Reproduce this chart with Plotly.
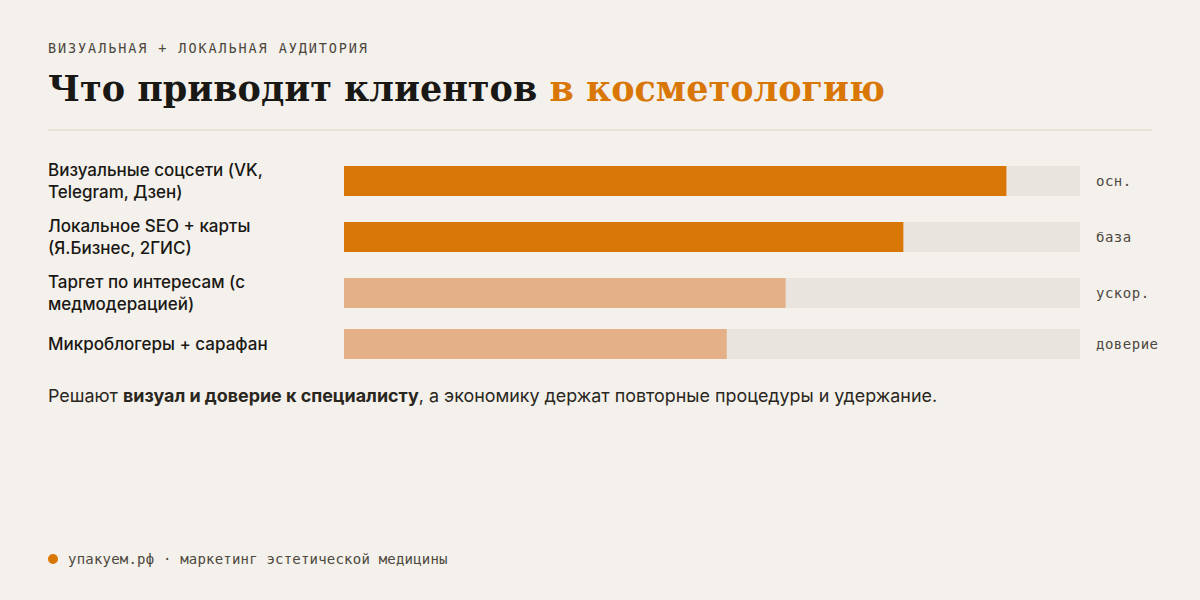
import plotly.graph_objects as go
import json

# ---------------- data ----------------
categories = [
    "Визуальные соцсети (VK,<br>Telegram, Дзен)",
    "Локальное SEO + карты<br>(Я.Бизнес, 2ГИС)",
    "Таргет по интересам (с<br>медмодерацией)",
    "Микроблогеры + сарафан",
]
values = [90, 76, 60, 52]
tags = ["осн.", "база", "ускор.", "доверие"]
strong = [True, True, False, False]

kicker = "ВИЗУАЛЬНАЯ + ЛОКАЛЬНАЯ АУДИТОРИЯ"
title_dark = "Что приводит клиентов"
title_accent = "в косметологию"
caption = ("Решают <b>визуал и доверие к специалисту</b>, а экономику держат "
           "повторные процедуры и удержание.")
footer = "упакуем.рф · маркетинг эстетической медицины"

# ---------------- style ----------------
W, H = 1200, 600
BG = "#f4f1ec"
TRACK = "#e9e5de"
ORANGE = "#d97706"
LIGHT = "#e3b088"
INK = "#1a1814"
MUTED = "#4d483e"
SANS = "Inter, 'Noto Sans', sans-serif"
SERIF = "'DejaVu Serif', 'Liberation Serif', serif"
MONO = "'DejaVu Sans Mono', 'Liberation Mono', monospace"

# row layout (like an HTML list: row height from the label's line count)
LINE_H, BAR_H, GAP, TOP0 = 20, 30, 16, 161
centers = []
top = TOP0
for c in categories:
    lines = c.count("<br>") + 1
    h = max(lines * LINE_H, BAR_H)
    centers.append(top + h / 2)
    top += h + GAP

def px(x):
    return x / W

def py(y):
    return 1 - y / H

fig = go.Figure()
fig.add_trace(go.Bar(
    orientation="h", y=centers, x=[100] * len(values), width=BAR_H,
    marker=dict(color=TRACK, line=dict(width=0)), hoverinfo="skip", showlegend=False,
))
fig.add_trace(go.Bar(
    orientation="h", y=centers, x=values, width=BAR_H,
    marker=dict(color=[ORANGE if s else LIGHT for s in strong], line=dict(width=0)),
    hoverinfo="skip", showlegend=False,
))

annotations = []
for c, yc, t in zip(categories, centers, tags):
    annotations.append(dict(
        text=c, x=px(46), xref="paper", y=yc, yref="y", xanchor="left", yanchor="middle",
        align="left", showarrow=False,
        font=dict(family=SANS, size=17, color=INK, weight=500),
    ))
    annotations.append(dict(
        text=t, x=px(1094), xref="paper", y=yc, yref="y", xanchor="left", yanchor="middle",
        align="left", showarrow=False, font=dict(family=MONO, size=14, color=MUTED),
    ))

annotations.append(dict(
    text=kicker, x=px(46), xref="paper", y=py(48), yref="paper", xanchor="left",
    yanchor="middle", align="left", showarrow=False,
    font=dict(family=MONO, size=13.5, color=MUTED),
))
annotations.append(dict(
    text=f"{title_dark} <span style='color:{ORANGE}'>{title_accent}</span>",
    x=px(46), xref="paper", y=py(88), yref="paper", xanchor="left", yanchor="middle",
    align="left", showarrow=False, font=dict(family=SERIF, size=35, color=INK, weight=900),
))
annotations.append(dict(
    text=caption, x=px(46), xref="paper", y=py(395), yref="paper", xanchor="left",
    yanchor="middle", align="left", showarrow=False,
    font=dict(family=SANS, size=17.9, color="#2a2620"),
))
annotations.append(dict(
    text=footer, x=px(66), xref="paper", y=py(559), yref="paper", xanchor="left",
    yanchor="middle", align="left", showarrow=False,
    font=dict(family=MONO, size=14, color=MUTED),
))

shapes = [
    dict(type="line", xref="paper", yref="paper", x0=px(48), x1=px(1152), y0=py(130), y1=py(130),
         line=dict(color="#dcd3c3", width=1)),
    dict(type="circle", xref="paper", yref="paper", x0=px(48), x1=px(58), y0=py(554), y1=py(564),
         fillcolor=ORANGE, line=dict(width=0)),
]

fig.update_layout(
    width=W, height=H, paper_bgcolor=BG, plot_bgcolor=BG,
    margin=dict(l=0, r=0, t=0, b=0), barmode="overlay", showlegend=False,
    xaxis=dict(domain=[px(344), px(1080)], range=[0, 100], visible=False, fixedrange=True),
    yaxis=dict(domain=[0, 1], range=[H, 0], visible=False, fixedrange=True),
    annotations=annotations, shapes=shapes,
)

spacing = {kicker: 1.9, footer: 0.2}
for t in tags:
    spacing[t] = 0.5
post = """
(function(){
  var sp = %s;
  function apply(){
    document.querySelectorAll('.annotation-text').forEach(function(el){
      var k = el.textContent;
      if (sp.hasOwnProperty(k)) { el.style.letterSpacing = sp[k] + 'px'; }
    });
  }
  apply();
  var gd = document.getElementById('{plot_id}');
  if (gd && gd.on) { gd.on('plotly_afterplot', apply); }
})();
""" % json.dumps(spacing, ensure_ascii=False)

fig.write_html("out.html", config={"displayModeBar": False, "staticPlot": True}, post_script=post)
